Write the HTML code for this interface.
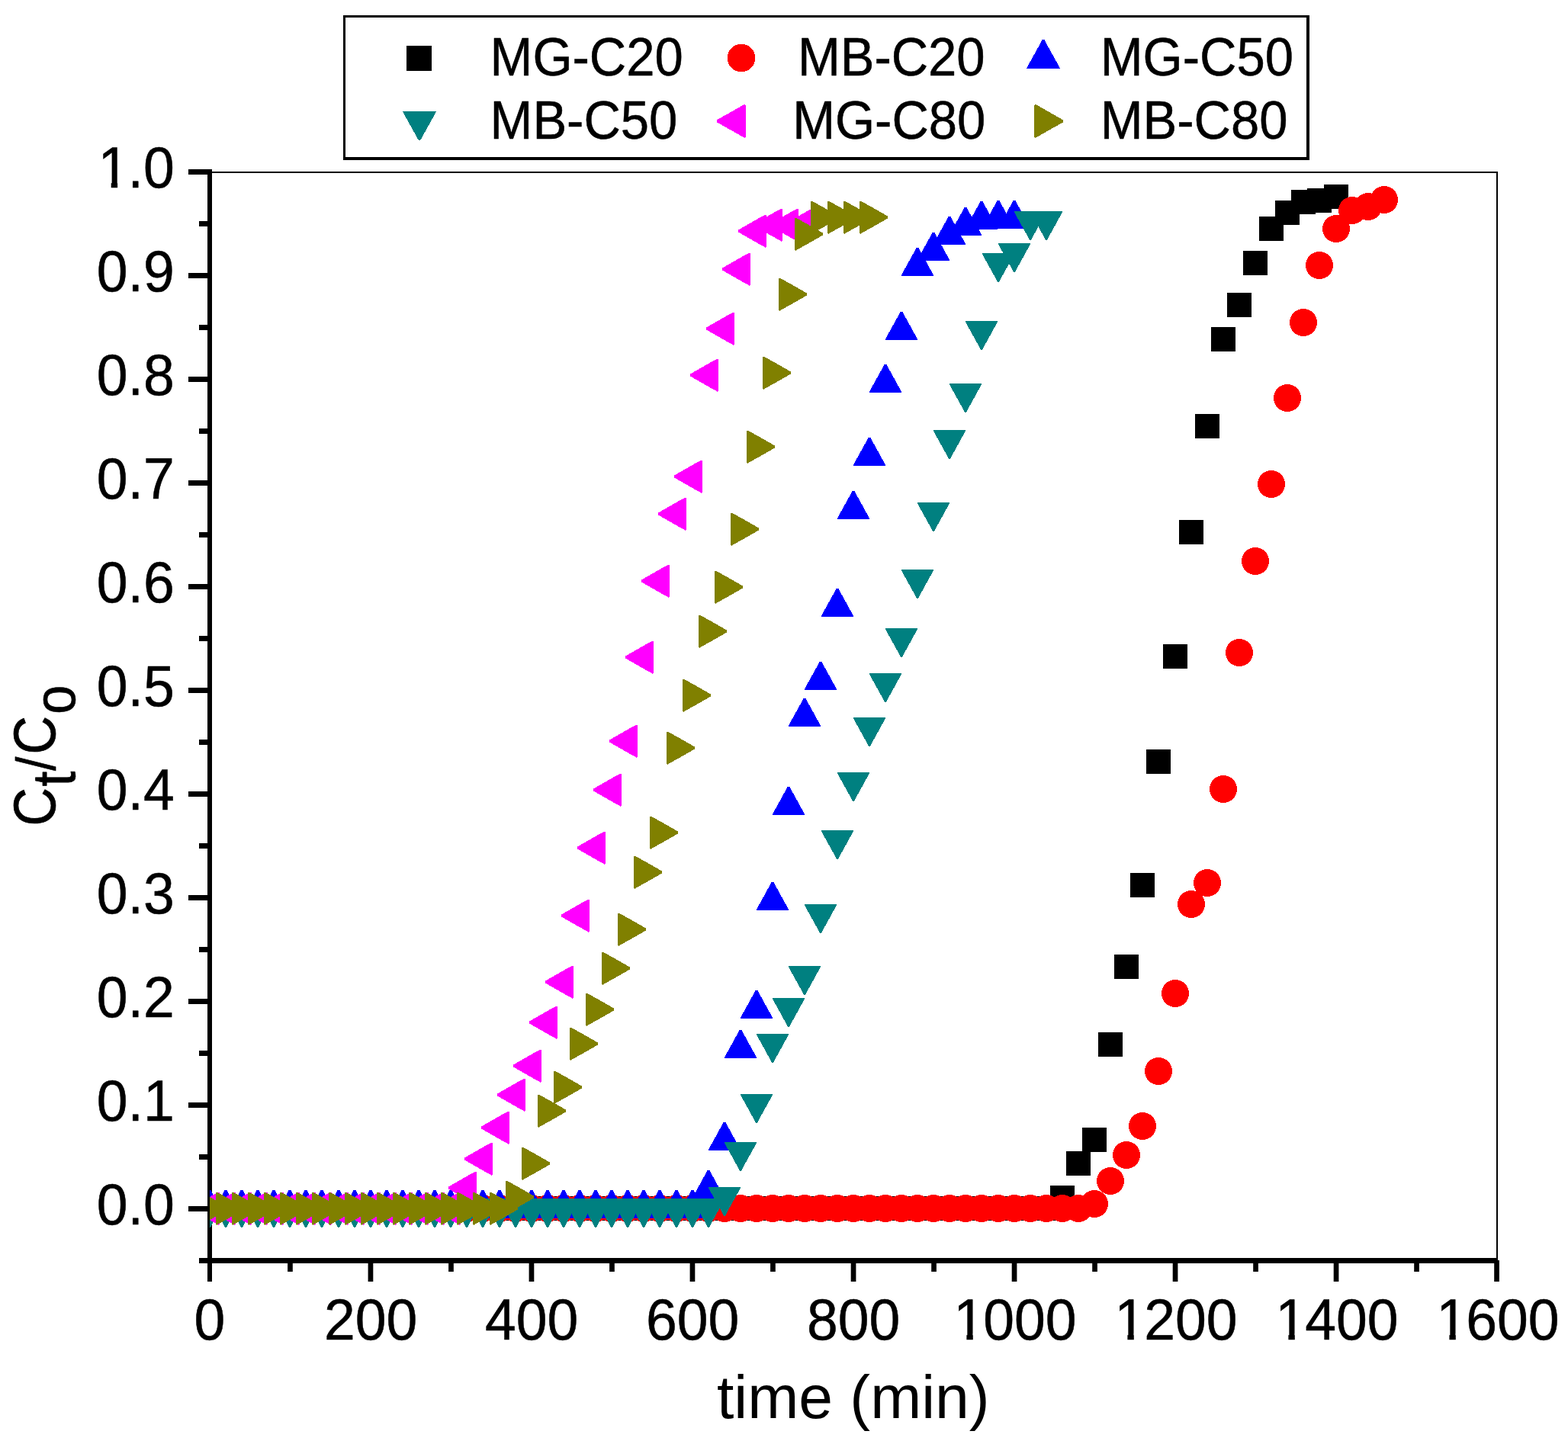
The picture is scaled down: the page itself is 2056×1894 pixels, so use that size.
<!DOCTYPE html>
<html lang="en"><head><meta charset="utf-8"><title>Breakthrough curves</title>
<style>html,body{margin:0;padding:0;background:#fff}body{width:2056px;height:1894px;overflow:hidden}svg{display:block}text{font-family:"Liberation Sans",sans-serif;fill:#000;stroke-linejoin:round}</style>
</head><body>
<svg width="2056" height="1894" viewBox="0 0 2056 1894">
<rect width="2056" height="1894" fill="#fff"/>
<defs><clipPath id="plot"><rect x="275" y="226" width="1688" height="1427.5"/></clipPath></defs>
<g fill="#000" shape-rendering="crispEdges">
<rect x="275" y="225" width="1689" height="2"/>
<rect x="1962" y="225" width="2" height="1429"/>
<rect x="272" y="222" width="6" height="1435"/>
<rect x="261" y="1650" width="1703" height="7"/>
<rect x="247" y="1582" width="26" height="7"/>
<rect x="261" y="1514" width="12" height="7"/>
<rect x="247" y="1446" width="26" height="7"/>
<rect x="261" y="1378" width="12" height="7"/>
<rect x="247" y="1310" width="26" height="7"/>
<rect x="261" y="1242" width="12" height="7"/>
<rect x="247" y="1174" width="26" height="7"/>
<rect x="261" y="1106" width="12" height="7"/>
<rect x="247" y="1038" width="26" height="7"/>
<rect x="261" y="970" width="12" height="7"/>
<rect x="247" y="902" width="26" height="7"/>
<rect x="261" y="834" width="12" height="7"/>
<rect x="247" y="766" width="26" height="7"/>
<rect x="261" y="698" width="12" height="7"/>
<rect x="247" y="630" width="26" height="7"/>
<rect x="261" y="562" width="12" height="7"/>
<rect x="247" y="494" width="26" height="7"/>
<rect x="261" y="426" width="12" height="7"/>
<rect x="247" y="358" width="26" height="7"/>
<rect x="261" y="290" width="12" height="7"/>
<rect x="247" y="222" width="26" height="7"/>
</g><g fill="#000">
<rect x="272" y="1653" width="6" height="28"/>
<rect x="377.1" y="1653" width="6.7" height="15"/>
<rect x="482.6" y="1653" width="6.7" height="28"/>
<rect x="588.1" y="1653" width="6.7" height="15"/>
<rect x="693.6" y="1653" width="6.7" height="28"/>
<rect x="799.1" y="1653" width="6.7" height="15"/>
<rect x="904.6" y="1653" width="6.7" height="28"/>
<rect x="1010.1" y="1653" width="6.7" height="15"/>
<rect x="1115.7" y="1653" width="6.7" height="28"/>
<rect x="1221.2" y="1653" width="6.7" height="15"/>
<rect x="1326.7" y="1653" width="6.7" height="28"/>
<rect x="1432.2" y="1653" width="6.7" height="15"/>
<rect x="1537.7" y="1653" width="6.7" height="28"/>
<rect x="1643.2" y="1653" width="6.7" height="15"/>
<rect x="1748.7" y="1653" width="6.7" height="28"/>
<rect x="1854.2" y="1653" width="6.7" height="15"/>
<rect x="1959.2" y="1653" width="6.7" height="28"/>
</g>
<g clip-path="url(#plot)" shape-rendering="crispEdges">
<path fill="#000" d="M259.2 1569.2h31.6v31.6h-31.6zM280.2 1569.2h31.6v31.6h-31.6zM301.2 1569.2h31.6v31.6h-31.6zM322.2 1569.2h31.6v31.6h-31.6zM343.2 1569.2h31.6v31.6h-31.6zM364.2 1569.2h31.6v31.6h-31.6zM385.2 1569.2h31.6v31.6h-31.6zM406.2 1569.2h31.6v31.6h-31.6zM428.2 1569.2h31.6v31.6h-31.6zM449.2 1569.2h31.6v31.6h-31.6zM470.2 1569.2h31.6v31.6h-31.6zM491.2 1569.2h31.6v31.6h-31.6zM512.2 1569.2h31.6v31.6h-31.6zM533.2 1569.2h31.6v31.6h-31.6zM554.2 1569.2h31.6v31.6h-31.6zM575.2 1569.2h31.6v31.6h-31.6zM596.2 1569.2h31.6v31.6h-31.6zM617.2 1569.2h31.6v31.6h-31.6zM639.2 1569.2h31.6v31.6h-31.6zM660.2 1569.2h31.6v31.6h-31.6zM681.2 1569.2h31.6v31.6h-31.6zM702.2 1569.2h31.6v31.6h-31.6zM723.2 1569.2h31.6v31.6h-31.6zM744.2 1569.2h31.6v31.6h-31.6zM765.2 1569.2h31.6v31.6h-31.6zM786.2 1569.2h31.6v31.6h-31.6zM807.2 1569.2h31.6v31.6h-31.6zM828.2 1569.2h31.6v31.6h-31.6zM849.2 1569.2h31.6v31.6h-31.6zM871.2 1569.2h31.6v31.6h-31.6zM892.2 1569.2h31.6v31.6h-31.6zM913.2 1569.2h31.6v31.6h-31.6zM934.2 1569.2h31.6v31.6h-31.6zM955.2 1569.2h31.6v31.6h-31.6zM976.2 1569.2h31.6v31.6h-31.6zM997.2 1569.2h31.6v31.6h-31.6zM1018.2 1569.2h31.6v31.6h-31.6zM1039.2 1569.2h31.6v31.6h-31.6zM1060.2 1569.2h31.6v31.6h-31.6zM1082.2 1569.2h31.6v31.6h-31.6zM1103.2 1569.2h31.6v31.6h-31.6zM1124.2 1569.2h31.6v31.6h-31.6zM1145.2 1569.2h31.6v31.6h-31.6zM1166.2 1569.2h31.6v31.6h-31.6zM1187.2 1569.2h31.6v31.6h-31.6zM1208.2 1569.2h31.6v31.6h-31.6zM1229.2 1569.2h31.6v31.6h-31.6zM1250.2 1569.2h31.6v31.6h-31.6zM1271.2 1569.2h31.6v31.6h-31.6zM1293.2 1569.2h31.6v31.6h-31.6zM1314.2 1569.2h31.6v31.6h-31.6zM1335.2 1569.2h31.6v31.6h-31.6zM1356.2 1569.2h31.6v31.6h-31.6zM1377.2 1555.2h31.6v31.6h-31.6zM1398.2 1510.2h31.6v31.6h-31.6zM1419.2 1479.2h31.6v31.6h-31.6zM1440.2 1354.2h31.6v31.6h-31.6zM1461.2 1252.2h31.6v31.6h-31.6zM1482.2 1145.2h31.6v31.6h-31.6zM1503.2 983.2h31.6v31.6h-31.6zM1525.2 845.2h31.6v31.6h-31.6zM1546.2 682.2h31.6v31.6h-31.6zM1567.2 543.2h31.6v31.6h-31.6zM1588.2 429.2h31.6v31.6h-31.6zM1609.2 384.2h31.6v31.6h-31.6zM1630.2 329.2h31.6v31.6h-31.6zM1651.2 284.2h31.6v31.6h-31.6zM1672.2 263.2h31.6v31.6h-31.6zM1693.2 249.2h31.6v31.6h-31.6zM1714.2 247.2h31.6v31.6h-31.6zM1736.2 242.2h31.6v31.6h-31.6z"/>
<g fill="#f00"><circle cx="275" cy="1585" r="18"/><circle cx="296" cy="1585" r="18"/><circle cx="317" cy="1585" r="18"/><circle cx="338" cy="1585" r="18"/><circle cx="359" cy="1585" r="18"/><circle cx="380" cy="1585" r="18"/><circle cx="401" cy="1585" r="18"/><circle cx="422" cy="1585" r="18"/><circle cx="444" cy="1585" r="18"/><circle cx="465" cy="1585" r="18"/><circle cx="486" cy="1585" r="18"/><circle cx="507" cy="1585" r="18"/><circle cx="528" cy="1585" r="18"/><circle cx="549" cy="1585" r="18"/><circle cx="570" cy="1585" r="18"/><circle cx="591" cy="1585" r="18"/><circle cx="612" cy="1585" r="18"/><circle cx="633" cy="1585" r="18"/><circle cx="655" cy="1585" r="18"/><circle cx="676" cy="1585" r="18"/><circle cx="697" cy="1585" r="18"/><circle cx="718" cy="1585" r="18"/><circle cx="739" cy="1585" r="18"/><circle cx="760" cy="1585" r="18"/><circle cx="781" cy="1585" r="18"/><circle cx="802" cy="1585" r="18"/><circle cx="823" cy="1585" r="18"/><circle cx="844" cy="1585" r="18"/><circle cx="865" cy="1585" r="18"/><circle cx="887" cy="1585" r="18"/><circle cx="908" cy="1585" r="18"/><circle cx="929" cy="1585" r="18"/><circle cx="950" cy="1585" r="18"/><circle cx="971" cy="1585" r="18"/><circle cx="992" cy="1585" r="18"/><circle cx="1013" cy="1585" r="18"/><circle cx="1034" cy="1585" r="18"/><circle cx="1055" cy="1585" r="18"/><circle cx="1076" cy="1585" r="18"/><circle cx="1098" cy="1585" r="18"/><circle cx="1119" cy="1585" r="18"/><circle cx="1140" cy="1585" r="18"/><circle cx="1161" cy="1585" r="18"/><circle cx="1182" cy="1585" r="18"/><circle cx="1203" cy="1585" r="18"/><circle cx="1224" cy="1585" r="18"/><circle cx="1245" cy="1585" r="18"/><circle cx="1266" cy="1585" r="18"/><circle cx="1287" cy="1585" r="18"/><circle cx="1309" cy="1585" r="18"/><circle cx="1330" cy="1585" r="18"/><circle cx="1351" cy="1585" r="18"/><circle cx="1372" cy="1585" r="18"/><circle cx="1393" cy="1585" r="18"/><circle cx="1414" cy="1585" r="18"/><circle cx="1435" cy="1579" r="18"/><circle cx="1456" cy="1549" r="18"/><circle cx="1477" cy="1515" r="18"/><circle cx="1498" cy="1477" r="18"/><circle cx="1519" cy="1405" r="18"/><circle cx="1541" cy="1303" r="18"/><circle cx="1562" cy="1186" r="18"/><circle cx="1583" cy="1158" r="18"/><circle cx="1604" cy="1035" r="18"/><circle cx="1625" cy="856" r="18"/><circle cx="1646" cy="736" r="18"/><circle cx="1667" cy="635" r="18"/><circle cx="1688" cy="522" r="18"/><circle cx="1709" cy="423" r="18"/><circle cx="1730" cy="348" r="18"/><circle cx="1752" cy="300" r="18"/><circle cx="1773" cy="276" r="18"/><circle cx="1794" cy="271" r="18"/><circle cx="1815" cy="262" r="18"/></g>
<path fill="#00f" d="M274 1560.5L276 1560.5L296.1 1597L295.6 1597.6L254.4 1597.6L253.8 1597zM295 1560.5L297 1560.5L317.1 1597L316.6 1597.6L275.4 1597.6L274.9 1597zM316 1560.5L318 1560.5L338.1 1597L337.6 1597.6L296.4 1597.6L295.9 1597zM337 1560.5L339 1560.5L359.1 1597L358.6 1597.6L317.4 1597.6L316.9 1597zM358 1560.5L360 1560.5L380.1 1597L379.6 1597.6L338.4 1597.6L337.9 1597zM379 1560.5L381 1560.5L401.1 1597L400.6 1597.6L359.4 1597.6L358.9 1597zM400 1560.5L402 1560.5L422.1 1597L421.6 1597.6L380.4 1597.6L379.9 1597zM421 1560.5L423 1560.5L443.1 1597L442.6 1597.6L401.4 1597.6L400.9 1597zM443 1560.5L445 1560.5L465.1 1597L464.6 1597.6L423.4 1597.6L422.9 1597zM464 1560.5L466 1560.5L486.1 1597L485.6 1597.6L444.4 1597.6L443.9 1597zM485 1560.5L487 1560.5L507.1 1597L506.6 1597.6L465.4 1597.6L464.9 1597zM506 1560.5L508 1560.5L528.1 1597L527.6 1597.6L486.4 1597.6L485.9 1597zM527 1560.5L529 1560.5L549.1 1597L548.6 1597.6L507.4 1597.6L506.9 1597zM548 1560.5L550 1560.5L570.1 1597L569.6 1597.6L528.4 1597.6L527.9 1597zM569 1560.5L571 1560.5L591.1 1597L590.6 1597.6L549.4 1597.6L548.9 1597zM590 1560.5L592 1560.5L612.1 1597L611.6 1597.6L570.4 1597.6L569.9 1597zM611 1560.5L613 1560.5L633.1 1597L632.6 1597.6L591.4 1597.6L590.9 1597zM632 1560.5L634 1560.5L654.1 1597L653.6 1597.6L612.4 1597.6L611.9 1597zM654 1560.5L656 1560.5L676.1 1597L675.6 1597.6L634.4 1597.6L633.9 1597zM675 1560.5L677 1560.5L697.1 1597L696.6 1597.6L655.4 1597.6L654.9 1597zM696 1560.5L698 1560.5L718.1 1597L717.6 1597.6L676.4 1597.6L675.9 1597zM717 1560.5L719 1560.5L739.1 1597L738.6 1597.6L697.4 1597.6L696.9 1597zM738 1560.5L740 1560.5L760.1 1597L759.6 1597.6L718.4 1597.6L717.9 1597zM759 1560.5L761 1560.5L781.1 1597L780.6 1597.6L739.4 1597.6L738.9 1597zM780 1560.5L782 1560.5L802.1 1597L801.6 1597.6L760.4 1597.6L759.9 1597zM801 1560.5L803 1560.5L823.1 1597L822.6 1597.6L781.4 1597.6L780.9 1597zM822 1560.5L824 1560.5L844.1 1597L843.6 1597.6L802.4 1597.6L801.9 1597zM843 1560.5L845 1560.5L865.1 1597L864.6 1597.6L823.4 1597.6L822.9 1597zM864 1560.5L866 1560.5L886.1 1597L885.6 1597.6L844.4 1597.6L843.9 1597zM886 1560.5L888 1560.5L908.1 1597L907.6 1597.6L866.4 1597.6L865.9 1597zM907 1560.5L909 1560.5L929.1 1597L928.6 1597.6L887.4 1597.6L886.9 1597zM928 1534.5L930 1534.5L950.1 1571L949.6 1571.6L908.4 1571.6L907.9 1571zM949 1471.5L951 1471.5L971.1 1508L970.6 1508.6L929.4 1508.6L928.9 1508zM970 1350.5L972 1350.5L992.1 1387L991.6 1387.6L950.4 1387.6L949.9 1387zM991 1298.5L993 1298.5L1013.1 1335L1012.6 1335.6L971.4 1335.6L970.9 1335zM1012 1156.5L1014 1156.5L1034.2 1193L1033.6 1193.6L992.4 1193.6L991.9 1193zM1033 1031.5L1035 1031.5L1055.2 1068L1054.6 1068.6L1013.4 1068.6L1012.9 1068zM1054 915.5L1056 915.5L1076.2 952L1075.6 952.6L1034.4 952.6L1033.8 952zM1075 867.5L1077 867.5L1097.2 904L1096.6 904.6L1055.4 904.6L1054.8 904zM1097 771.5L1099 771.5L1119.2 808L1118.6 808.6L1077.4 808.6L1076.8 808zM1118 643.5L1120 643.5L1140.2 680L1139.6 680.6L1098.4 680.6L1097.8 680zM1139 573.5L1141 573.5L1161.2 610L1160.6 610.6L1119.4 610.6L1118.8 610zM1160 477.5L1162 477.5L1182.2 514L1181.6 514.6L1140.4 514.6L1139.8 514zM1181 408.5L1183 408.5L1203.2 445L1202.6 445.6L1161.4 445.6L1160.8 445zM1202 324.5L1204 324.5L1224.2 361L1223.6 361.6L1182.4 361.6L1181.8 361zM1223 304.5L1225 304.5L1245.2 341L1244.6 341.6L1203.4 341.6L1202.8 341zM1244 283.5L1246 283.5L1266.2 320L1265.6 320.6L1224.4 320.6L1223.8 320zM1265 271.5L1267 271.5L1287.2 308L1286.6 308.6L1245.4 308.6L1244.8 308zM1286 263.5L1288 263.5L1308.2 300L1307.6 300.6L1266.4 300.6L1265.8 300zM1308 262.5L1310 262.5L1330.2 299L1329.6 299.6L1288.4 299.6L1287.8 299zM1329 262.5L1331 262.5L1351.2 299L1350.6 299.6L1309.4 299.6L1308.8 299z"/>
<path fill="#008080" d="M274 1609.5L276 1609.5L296.1 1573L295.6 1572.4L254.4 1572.4L253.8 1573zM295 1609.5L297 1609.5L317.1 1573L316.6 1572.4L275.4 1572.4L274.9 1573zM316 1609.5L318 1609.5L338.1 1573L337.6 1572.4L296.4 1572.4L295.9 1573zM337 1609.5L339 1609.5L359.1 1573L358.6 1572.4L317.4 1572.4L316.9 1573zM358 1609.5L360 1609.5L380.1 1573L379.6 1572.4L338.4 1572.4L337.9 1573zM379 1609.5L381 1609.5L401.1 1573L400.6 1572.4L359.4 1572.4L358.9 1573zM400 1609.5L402 1609.5L422.1 1573L421.6 1572.4L380.4 1572.4L379.9 1573zM421 1609.5L423 1609.5L443.1 1573L442.6 1572.4L401.4 1572.4L400.9 1573zM443 1609.5L445 1609.5L465.1 1573L464.6 1572.4L423.4 1572.4L422.9 1573zM464 1609.5L466 1609.5L486.1 1573L485.6 1572.4L444.4 1572.4L443.9 1573zM485 1609.5L487 1609.5L507.1 1573L506.6 1572.4L465.4 1572.4L464.9 1573zM506 1609.5L508 1609.5L528.1 1573L527.6 1572.4L486.4 1572.4L485.9 1573zM527 1609.5L529 1609.5L549.1 1573L548.6 1572.4L507.4 1572.4L506.9 1573zM548 1609.5L550 1609.5L570.1 1573L569.6 1572.4L528.4 1572.4L527.9 1573zM569 1609.5L571 1609.5L591.1 1573L590.6 1572.4L549.4 1572.4L548.9 1573zM590 1609.5L592 1609.5L612.1 1573L611.6 1572.4L570.4 1572.4L569.9 1573zM611 1609.5L613 1609.5L633.1 1573L632.6 1572.4L591.4 1572.4L590.9 1573zM632 1609.5L634 1609.5L654.1 1573L653.6 1572.4L612.4 1572.4L611.9 1573zM654 1609.5L656 1609.5L676.1 1573L675.6 1572.4L634.4 1572.4L633.9 1573zM675 1609.5L677 1609.5L697.1 1573L696.6 1572.4L655.4 1572.4L654.9 1573zM696 1609.5L698 1609.5L718.1 1573L717.6 1572.4L676.4 1572.4L675.9 1573zM717 1609.5L719 1609.5L739.1 1573L738.6 1572.4L697.4 1572.4L696.9 1573zM738 1609.5L740 1609.5L760.1 1573L759.6 1572.4L718.4 1572.4L717.9 1573zM759 1609.5L761 1609.5L781.1 1573L780.6 1572.4L739.4 1572.4L738.9 1573zM780 1609.5L782 1609.5L802.1 1573L801.6 1572.4L760.4 1572.4L759.9 1573zM801 1609.5L803 1609.5L823.1 1573L822.6 1572.4L781.4 1572.4L780.9 1573zM822 1609.5L824 1609.5L844.1 1573L843.6 1572.4L802.4 1572.4L801.9 1573zM843 1609.5L845 1609.5L865.1 1573L864.6 1572.4L823.4 1572.4L822.9 1573zM864 1609.5L866 1609.5L886.1 1573L885.6 1572.4L844.4 1572.4L843.9 1573zM886 1609.5L888 1609.5L908.1 1573L907.6 1572.4L866.4 1572.4L865.9 1573zM907 1609.5L909 1609.5L929.1 1573L928.6 1572.4L887.4 1572.4L886.9 1573zM928 1609.5L930 1609.5L950.1 1573L949.6 1572.4L908.4 1572.4L907.9 1573zM949 1594.5L951 1594.5L971.1 1558L970.6 1557.4L929.4 1557.4L928.9 1558zM970 1535.5L972 1535.5L992.1 1499L991.6 1498.4L950.4 1498.4L949.9 1499zM991 1472.5L993 1472.5L1013.1 1436L1012.6 1435.4L971.4 1435.4L970.9 1436zM1012 1393.5L1014 1393.5L1034.2 1357L1033.6 1356.4L992.4 1356.4L991.9 1357zM1033 1346.5L1035 1346.5L1055.2 1310L1054.6 1309.4L1013.4 1309.4L1012.9 1310zM1054 1304.5L1056 1304.5L1076.2 1268L1075.6 1267.4L1034.4 1267.4L1033.8 1268zM1075 1223.5L1077 1223.5L1097.2 1187L1096.6 1186.4L1055.4 1186.4L1054.8 1187zM1097 1126.5L1099 1126.5L1119.2 1090L1118.6 1089.4L1077.4 1089.4L1076.8 1090zM1118 1050.5L1120 1050.5L1140.2 1014L1139.6 1013.4L1098.4 1013.4L1097.8 1014zM1139 978.5L1141 978.5L1161.2 942L1160.6 941.4L1119.4 941.4L1118.8 942zM1160 920.5L1162 920.5L1182.2 884L1181.6 883.4L1140.4 883.4L1139.8 884zM1181 861.5L1183 861.5L1203.2 825L1202.6 824.4L1161.4 824.4L1160.8 825zM1202 784.5L1204 784.5L1224.2 748L1223.6 747.4L1182.4 747.4L1181.8 748zM1223 696.5L1225 696.5L1245.2 660L1244.6 659.4L1203.4 659.4L1202.8 660zM1244 601.5L1246 601.5L1266.2 565L1265.6 564.4L1224.4 564.4L1223.8 565zM1265 540.5L1267 540.5L1287.2 504L1286.6 503.4L1245.4 503.4L1244.8 504zM1286 458.5L1288 458.5L1308.2 422L1307.6 421.4L1266.4 421.4L1265.8 422zM1308 369.5L1310 369.5L1330.2 333L1329.6 332.4L1288.4 332.4L1287.8 333zM1329 356.5L1331 356.5L1351.2 320L1350.6 319.4L1309.4 319.4L1308.8 320zM1350 314.5L1352 314.5L1372.2 278L1371.6 277.4L1330.4 277.4L1329.8 278zM1371 314.5L1373 314.5L1393.2 278L1392.6 277.4L1351.4 277.4L1350.8 278z"/>
<path fill="#f0f" d="M251.1 1583.5L251.1 1586.5L286.3 1606.5L287.1 1606.5L288.2 1604.9L288.2 1565.1L287.1 1563.5L286.3 1563.5zM272.1 1583.5L272.1 1586.5L307.3 1606.5L308.1 1606.5L309.2 1604.9L309.2 1565.1L308.1 1563.5L307.3 1563.5zM293.1 1583.5L293.1 1586.5L328.3 1606.5L329.1 1606.5L330.2 1604.9L330.2 1565.1L329.1 1563.5L328.3 1563.5zM314.1 1583.5L314.1 1586.5L349.3 1606.5L350.1 1606.5L351.2 1604.9L351.2 1565.1L350.1 1563.5L349.3 1563.5zM335.1 1583.5L335.1 1586.5L370.3 1606.5L371.1 1606.5L372.2 1604.9L372.2 1565.1L371.1 1563.5L370.3 1563.5zM356.1 1583.5L356.1 1586.5L391.3 1606.5L392.1 1606.5L393.2 1604.9L393.2 1565.1L392.1 1563.5L391.3 1563.5zM377.1 1583.5L377.1 1586.5L412.3 1606.5L413.1 1606.5L414.2 1604.9L414.2 1565.1L413.1 1563.5L412.3 1563.5zM398.1 1583.5L398.1 1586.5L433.3 1606.5L434.1 1606.5L435.2 1604.9L435.2 1565.1L434.1 1563.5L433.3 1563.5zM420.1 1583.5L420.1 1586.5L455.3 1606.5L456.1 1606.5L457.2 1604.9L457.2 1565.1L456.1 1563.5L455.3 1563.5zM441.1 1583.5L441.1 1586.5L476.3 1606.5L477.1 1606.5L478.2 1604.9L478.2 1565.1L477.1 1563.5L476.3 1563.5zM462.1 1583.5L462.1 1586.5L497.3 1606.5L498.1 1606.5L499.2 1604.9L499.2 1565.1L498.1 1563.5L497.3 1563.5zM483.1 1583.5L483.1 1586.5L518.3 1606.5L519.1 1606.5L520.2 1604.9L520.2 1565.1L519.1 1563.5L518.3 1563.5zM504.1 1583.5L504.1 1586.5L539.3 1606.5L540.1 1606.5L541.2 1604.9L541.2 1565.1L540.1 1563.5L539.3 1563.5zM525.1 1583.5L525.1 1586.5L560.3 1606.5L561.1 1606.5L562.2 1604.9L562.2 1565.1L561.1 1563.5L560.3 1563.5zM546.1 1583.5L546.1 1586.5L581.3 1606.5L582.1 1606.5L583.2 1604.9L583.2 1565.1L582.1 1563.5L581.3 1563.5zM567.1 1583.5L567.1 1586.5L602.3 1606.5L603.1 1606.5L604.2 1604.9L604.2 1565.1L603.1 1563.5L602.3 1563.5zM588.1 1556.5L588.1 1559.5L623.3 1579.5L624.1 1579.5L625.2 1577.9L625.2 1538.1L624.1 1536.5L623.3 1536.5zM609.1 1518.5L609.1 1521.5L644.3 1541.5L645.1 1541.5L646.2 1539.9L646.2 1500.1L645.1 1498.5L644.3 1498.5zM631.1 1477.5L631.1 1480.5L666.3 1500.5L667.1 1500.5L668.2 1498.9L668.2 1459.1L667.1 1457.5L666.3 1457.5zM652.1 1434.5L652.1 1437.5L687.3 1457.5L688.1 1457.5L689.2 1455.9L689.2 1416.1L688.1 1414.5L687.3 1414.5zM673.1 1396.5L673.1 1399.5L708.3 1419.5L709.1 1419.5L710.2 1417.9L710.2 1378.1L709.1 1376.5L708.3 1376.5zM694.1 1339.5L694.1 1342.5L729.3 1362.5L730.1 1362.5L731.2 1360.9L731.2 1321.1L730.1 1319.5L729.3 1319.5zM715.1 1286.5L715.1 1289.5L750.3 1309.5L751.1 1309.5L752.2 1307.9L752.2 1268.1L751.1 1266.5L750.3 1266.5zM736.1 1199.5L736.1 1202.5L771.3 1222.5L772.1 1222.5L773.2 1220.9L773.2 1181.1L772.1 1179.5L771.3 1179.5zM757.1 1110.5L757.1 1113.5L792.3 1133.5L793.1 1133.5L794.2 1131.9L794.2 1092.1L793.1 1090.5L792.3 1090.5zM778.1 1034.5L778.1 1037.5L813.3 1057.5L814.1 1057.5L815.2 1055.9L815.2 1016.1L814.1 1014.5L813.3 1014.5zM799.1 970.5L799.1 973.5L834.3 993.5L835.1 993.5L836.2 991.9L836.2 952.1L835.1 950.5L834.3 950.5zM820.1 860.5L820.1 863.5L855.3 883.5L856.1 883.5L857.2 881.9L857.2 842.1L856.1 840.5L855.3 840.5zM841.1 760.5L841.1 763.5L876.3 783.5L877.1 783.5L878.2 781.9L878.2 742.1L877.1 740.5L876.3 740.5zM863.1 672.5L863.1 675.5L898.3 695.5L899.1 695.5L900.2 693.9L900.2 654.1L899.1 652.5L898.3 652.5zM884.1 623.5L884.1 626.5L919.3 646.5L920.1 646.5L921.2 644.9L921.2 605.1L920.1 603.5L919.3 603.5zM905.1 490.5L905.1 493.5L940.3 513.5L941.1 513.5L942.2 511.9L942.2 472.1L941.1 470.5L940.3 470.5zM926.1 429.5L926.1 432.5L961.3 452.5L962.1 452.5L963.2 450.9L963.2 411.1L962.1 409.5L961.3 409.5zM947.1 351.5L947.1 354.5L982.3 374.5L983.1 374.5L984.2 372.9L984.2 333.1L983.1 331.5L982.3 331.5zM968.1 301.5L968.1 304.5L1003.3 324.5L1004.1 324.5L1005.2 322.9L1005.2 283.1L1004.1 281.5L1003.3 281.5zM989.1 293.5L989.1 296.5L1024.3 316.5L1025.1 316.5L1026.2 314.9L1026.2 275.1L1025.1 273.5L1024.3 273.5zM1010.1 293.5L1010.1 296.5L1045.3 316.5L1046.1 316.5L1047.2 314.9L1047.2 275.1L1046.1 273.5L1045.3 273.5zM1031.1 292.5L1031.1 295.5L1066.3 315.5L1067.1 315.5L1068.2 313.9L1068.2 274.1L1067.1 272.5L1066.3 272.5z"/>
<path fill="#808000" d="M298.9 1583.5L298.9 1586.5L263.7 1606.5L262.9 1606.5L261.8 1604.9L261.8 1565.1L262.9 1563.5L263.7 1563.5zM319.9 1583.5L319.9 1586.5L284.7 1606.5L283.9 1606.5L282.8 1604.9L282.8 1565.1L283.9 1563.5L284.7 1563.5zM340.9 1583.5L340.9 1586.5L305.7 1606.5L304.9 1606.5L303.8 1604.9L303.8 1565.1L304.9 1563.5L305.7 1563.5zM361.9 1583.5L361.9 1586.5L326.7 1606.5L325.9 1606.5L324.8 1604.9L324.8 1565.1L325.9 1563.5L326.7 1563.5zM382.9 1583.5L382.9 1586.5L347.7 1606.5L346.9 1606.5L345.8 1604.9L345.8 1565.1L346.9 1563.5L347.7 1563.5zM403.9 1583.5L403.9 1586.5L368.7 1606.5L367.9 1606.5L366.8 1604.9L366.8 1565.1L367.9 1563.5L368.7 1563.5zM424.9 1583.5L424.9 1586.5L389.7 1606.5L388.9 1606.5L387.8 1604.9L387.8 1565.1L388.9 1563.5L389.7 1563.5zM445.9 1583.5L445.9 1586.5L410.7 1606.5L409.9 1606.5L408.8 1604.9L408.8 1565.1L409.9 1563.5L410.7 1563.5zM467.9 1583.5L467.9 1586.5L432.7 1606.5L431.9 1606.5L430.8 1604.9L430.8 1565.1L431.9 1563.5L432.7 1563.5zM488.9 1583.5L488.9 1586.5L453.7 1606.5L452.9 1606.5L451.8 1604.9L451.8 1565.1L452.9 1563.5L453.7 1563.5zM509.9 1583.5L509.9 1586.5L474.7 1606.5L473.9 1606.5L472.8 1604.9L472.8 1565.1L473.9 1563.5L474.7 1563.5zM530.9 1583.5L530.9 1586.5L495.7 1606.5L494.9 1606.5L493.8 1604.9L493.8 1565.1L494.9 1563.5L495.7 1563.5zM551.9 1583.5L551.9 1586.5L516.7 1606.5L515.9 1606.5L514.8 1604.9L514.8 1565.1L515.9 1563.5L516.7 1563.5zM572.9 1583.5L572.9 1586.5L537.7 1606.5L536.9 1606.5L535.8 1604.9L535.8 1565.1L536.9 1563.5L537.7 1563.5zM593.9 1583.5L593.9 1586.5L558.7 1606.5L557.9 1606.5L556.8 1604.9L556.8 1565.1L557.9 1563.5L558.7 1563.5zM614.9 1583.5L614.9 1586.5L579.7 1606.5L578.9 1606.5L577.8 1604.9L577.8 1565.1L578.9 1563.5L579.7 1563.5zM635.9 1583.5L635.9 1586.5L600.7 1606.5L599.9 1606.5L598.8 1604.9L598.8 1565.1L599.9 1563.5L600.7 1563.5zM656.9 1583.5L656.9 1586.5L621.7 1606.5L620.9 1606.5L619.8 1604.9L619.8 1565.1L620.9 1563.5L621.7 1563.5zM678.9 1583.5L678.9 1586.5L643.7 1606.5L642.9 1606.5L641.8 1604.9L641.8 1565.1L642.9 1563.5L643.7 1563.5zM699.9 1568.5L699.9 1571.5L664.7 1591.5L663.9 1591.5L662.8 1589.9L662.8 1550.1L663.9 1548.5L664.7 1548.5zM720.9 1524.5L720.9 1527.5L685.7 1547.5L684.9 1547.5L683.8 1545.9L683.8 1506.1L684.9 1504.5L685.7 1504.5zM741.9 1455.5L741.9 1458.5L706.7 1478.5L705.9 1478.5L704.8 1476.9L704.8 1437.1L705.9 1435.5L706.7 1435.5zM762.9 1424.5L762.9 1427.5L727.7 1447.5L726.9 1447.5L725.8 1445.9L725.8 1406.1L726.9 1404.5L727.7 1404.5zM783.9 1367.5L783.9 1370.5L748.7 1390.5L747.9 1390.5L746.8 1388.9L746.8 1349.1L747.9 1347.5L748.7 1347.5zM804.9 1322.5L804.9 1325.5L769.7 1345.5L768.9 1345.5L767.8 1343.9L767.8 1304.1L768.9 1302.5L769.7 1302.5zM825.9 1268.5L825.9 1271.5L790.7 1291.5L789.9 1291.5L788.8 1289.9L788.8 1250.1L789.9 1248.5L790.7 1248.5zM846.9 1217.5L846.9 1220.5L811.7 1240.5L810.9 1240.5L809.8 1238.9L809.8 1199.1L810.9 1197.5L811.7 1197.5zM867.9 1142.5L867.9 1145.5L832.7 1165.5L831.9 1165.5L830.8 1163.9L830.8 1124.1L831.9 1122.5L832.7 1122.5zM888.9 1090.5L888.9 1093.5L853.7 1113.5L852.9 1113.5L851.8 1111.9L851.8 1072.1L852.9 1070.5L853.7 1070.5zM910.9 979.5L910.9 982.5L875.7 1002.5L874.9 1002.5L873.8 1000.9L873.8 961.1L874.9 959.5L875.7 959.5zM931.9 910.5L931.9 913.5L896.7 933.5L895.9 933.5L894.8 931.9L894.8 892.1L895.9 890.5L896.7 890.5zM952.9 826.5L952.9 829.5L917.7 849.5L916.9 849.5L915.8 847.9L915.8 808.1L916.9 806.5L917.7 806.5zM973.9 768.5L973.9 771.5L938.7 791.5L937.9 791.5L936.8 789.9L936.8 750.1L937.9 748.5L938.7 748.5zM994.9 692.5L994.9 695.5L959.7 715.5L958.9 715.5L957.8 713.9L957.8 674.1L958.9 672.5L959.7 672.5zM1015.9 584.5L1015.9 587.5L980.7 607.5L979.9 607.5L978.8 605.9L978.8 566.1L979.9 564.5L980.7 564.5zM1036.9 487.5L1036.9 490.5L1001.7 510.5L1000.9 510.5L999.8 508.9L999.8 469.1L1000.9 467.5L1001.7 467.5zM1057.9 384.5L1057.9 387.5L1022.7 407.5L1021.9 407.5L1020.8 405.9L1020.8 366.1L1021.9 364.5L1022.7 364.5zM1078.9 305.5L1078.9 308.5L1043.7 328.5L1042.9 328.5L1041.8 326.9L1041.8 287.1L1042.9 285.5L1043.7 285.5zM1099.9 283.5L1099.9 286.5L1064.7 306.5L1063.9 306.5L1062.8 304.9L1062.8 265.1L1063.9 263.5L1064.7 263.5zM1121.9 283.5L1121.9 286.5L1086.7 306.5L1085.9 306.5L1084.8 304.9L1084.8 265.1L1085.9 263.5L1086.7 263.5zM1142.9 283.5L1142.9 286.5L1107.7 306.5L1106.9 306.5L1105.8 304.9L1105.8 265.1L1106.9 263.5L1107.7 263.5zM1163.9 283.5L1163.9 286.5L1128.7 306.5L1127.9 306.5L1126.8 304.9L1126.8 265.1L1127.9 263.5L1128.7 263.5z"/>
</g>
<g font-size="73.3" stroke="#000" stroke-width=".5">
<text transform="translate(126.8 1605.9) scale(1 1.04)">0.0</text>
<text transform="translate(126.8 1469.9) scale(1 1.04)">0.1</text>
<text transform="translate(126.8 1333.9) scale(1 1.04)">0.2</text>
<text transform="translate(126.8 1197.9) scale(1 1.04)">0.3</text>
<text transform="translate(126.8 1061.9) scale(1 1.04)">0.4</text>
<text transform="translate(126.8 925.9) scale(1 1.04)">0.5</text>
<text transform="translate(126.8 789.9) scale(1 1.04)">0.6</text>
<text transform="translate(126.8 653.9) scale(1 1.04)">0.7</text>
<text transform="translate(126.8 517.9) scale(1 1.04)">0.8</text>
<text transform="translate(126.8 381.9) scale(1 1.04)">0.9</text>
<text transform="translate(126.8 245.9) scale(1 1.04)"><tspan dx="1.7">1</tspan><tspan dx="-1.7">.0</tspan></text>
<path fill="#fff" stroke="none" d="M131.5 238.3h14.2v9h-14.2zM154.1 238.3h14.4v9h-14.4z"/>
<text transform="translate(254.6 1756.7) scale(1 1.04)">0</text>
<text transform="translate(424.9 1756.7) scale(1 1.04)">200</text>
<text transform="translate(635.9 1756.7) scale(1 1.04)">400</text>
<text transform="translate(846.9 1756.7) scale(1 1.04)">600</text>
<text transform="translate(1057.9 1756.7) scale(1 1.04)">800</text>
<text transform="translate(1248.5 1756.7) scale(1 1.04)"><tspan dx="1.7">1</tspan><tspan dx="-1.7">000</tspan></text>
<path fill="#fff" stroke="none" d="M1253.2 1749.1h14.2v9h-14.2zM1275.8 1749.1h14.4v9h-14.4z"/>
<text transform="translate(1459.5 1756.7) scale(1 1.04)"><tspan dx="1.7">1</tspan><tspan dx="-1.7">200</tspan></text>
<path fill="#fff" stroke="none" d="M1464.2 1749.1h14.2v9h-14.2zM1486.8 1749.1h14.4v9h-14.4z"/>
<text transform="translate(1670.5 1756.7) scale(1 1.04)"><tspan dx="1.7">1</tspan><tspan dx="-1.7">400</tspan></text>
<path fill="#fff" stroke="none" d="M1675.2 1749.1h14.2v9h-14.2zM1697.8 1749.1h14.4v9h-14.4z"/>
<text transform="translate(1881.5 1756.7) scale(1 1.04)"><tspan dx="1.7">1</tspan><tspan dx="-1.7">600</tspan></text>
<path fill="#fff" stroke="none" d="M1886.2 1749.1h14.2v9h-14.2zM1908.8 1749.1h14.4v9h-14.4z"/>
</g>
<text x="939.9" y="1859.8" font-size="80.5">time (min)</text>
<text transform="translate(72 1083.6) rotate(-90) scale(.965 1.065)" font-size="72.5" stroke="#000" stroke-width=".7"><tspan x="0" y="0">C</tspan><tspan x="54.1" y="24.4" font-size="74">t</tspan><tspan x="75.2" y="0" font-size="68.5">/</tspan><tspan x="97.4" y="0">C</tspan><tspan x="152.2" y="24.4" font-size="71">o</tspan></text>
<path shape-rendering="crispEdges" fill="#000" fill-rule="evenodd" d="M450 20H1717V210H450zM453 23V206H1713V23z"/>
<g shape-rendering="crispEdges">
<rect x="533" y="60" width="33" height="33" fill="#000"/>
<circle cx="972" cy="76" r="18.3" fill="#f00"/>
<path fill="#00f" d="M1367 51.6L1369 51.6L1389.9 89.4L1389.3 90L1346.7 90L1346.1 89.4z"/>
<path fill="#008080" d="M549 184.4L551 184.4L571.9 146.6L571.3 146L528.7 146L528.1 146.6z"/>
<path fill="#f0f" d="M940.1 157.3L940.1 160.3L975.9 180.7L976.7 180.7L977.9 179L977.9 138.6L976.7 136.9L975.9 136.9z"/>
<path fill="#808000" d="M1393.9 157.3L1393.9 160.3L1358.1 180.7L1357.3 180.7L1356.1 179L1356.1 138.6L1357.3 136.9L1358.1 136.9z"/>
</g>
<g font-size="67" stroke="#000" stroke-width=".5">
<text transform="translate(642.6 98.7) scale(1 1.04)">MG-C20</text>
<text transform="translate(1045.9 98.7) scale(1 1.04)">MB-C20</text>
<text transform="translate(1442.8 98.7) scale(1 1.04)">MG-C50</text>
<text transform="translate(642.6 182.3) scale(1 1.04)">MB-C50</text>
<text transform="translate(1039.2 182.3) scale(1 1.04)">MG-C80</text>
<text transform="translate(1442.8 182.3) scale(1 1.04)">MB-C80</text>
</g>
</svg>
</body></html>
